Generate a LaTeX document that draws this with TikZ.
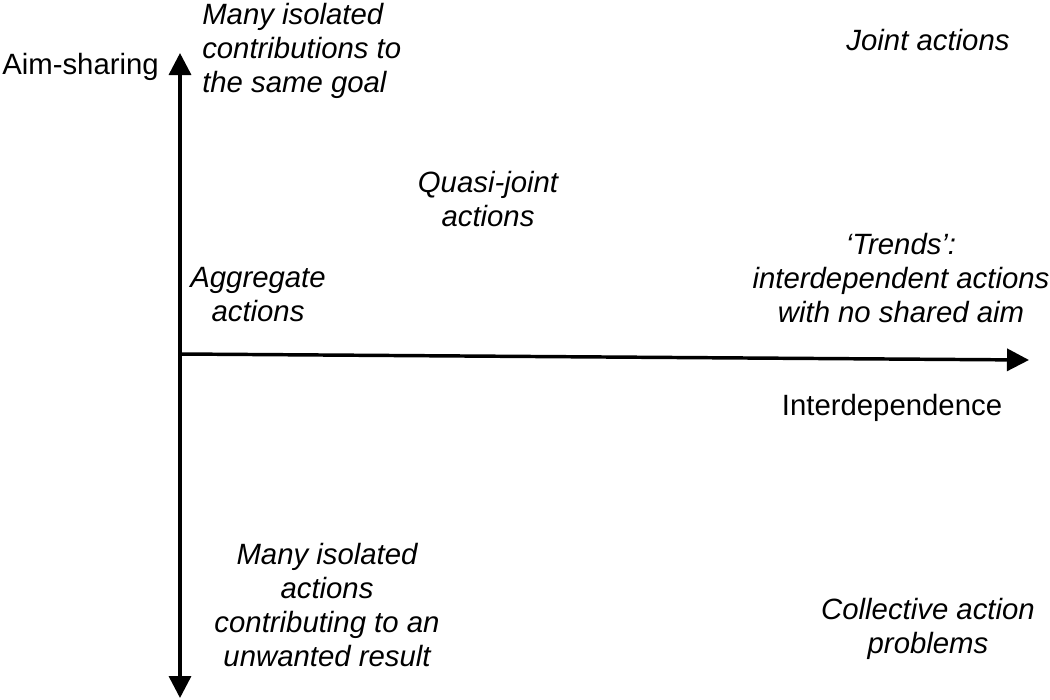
\documentclass[tikz,border=0pt]{standalone}
\usepackage{fontspec}
\setmainfont{Liberation Sans}
\usetikzlibrary{arrows.meta,positioning}

\begin{document}
\begin{tikzpicture}[
  x=0.75pt, y=-0.75pt,
  >={Triangle[length=16.5pt, width=16.5pt]},
  axisline/.style={line width=2.6pt, ->},
  axistext/.style={font=\fontsize{22}{25.5}\selectfont, inner sep=0pt},
  quadtext/.style={font=\fontsize{22}{25.5}\selectfont\itshape, inner sep=0pt,
                   align=center},
]
\useasboundingbox (0,0) rectangle (1050,700);

% === Axes ===
\coordinate (origin) at (180,354);
\coordinate (aimtop) at (180,53);
\coordinate (aimbot) at (180,698);
\coordinate (interend) at (1029,360);

\draw[axisline] (origin) -- (aimtop);
\draw[axisline] (origin) -- (aimbot);
\draw[axisline] (origin) -- (interend);

% === Axis labels ===
\node[axistext, anchor=west] (aim) at (2,67) {Aim-sharing};
\node[axistext] (interdep) at (892,408) {Interdependence};

% === Upper half ===
\node[quadtext, align=left, anchor=west] (isolgoal) at (202,51)
  {Many isolated\\contributions to\\the same goal};
\node[quadtext] (jointact) at (928,40) {Joint actions};
\node[quadtext] (quasi) at (488,199) {Quasi-joint\\actions};
\node[quadtext] (aggr) at (258,295) {Aggregate\\actions};
\node[quadtext] (trends) at (901,278)
  {`Trends':\\interdependent actions\\with no shared aim};

% === Lower half ===
\node[quadtext] (isolunw) at (327,605)
  {Many isolated\\actions\\contributing to an\\unwanted result};
\node[quadtext] (collprob) at (928,629) {Collective action\\problems};

\end{tikzpicture}
\end{document}
